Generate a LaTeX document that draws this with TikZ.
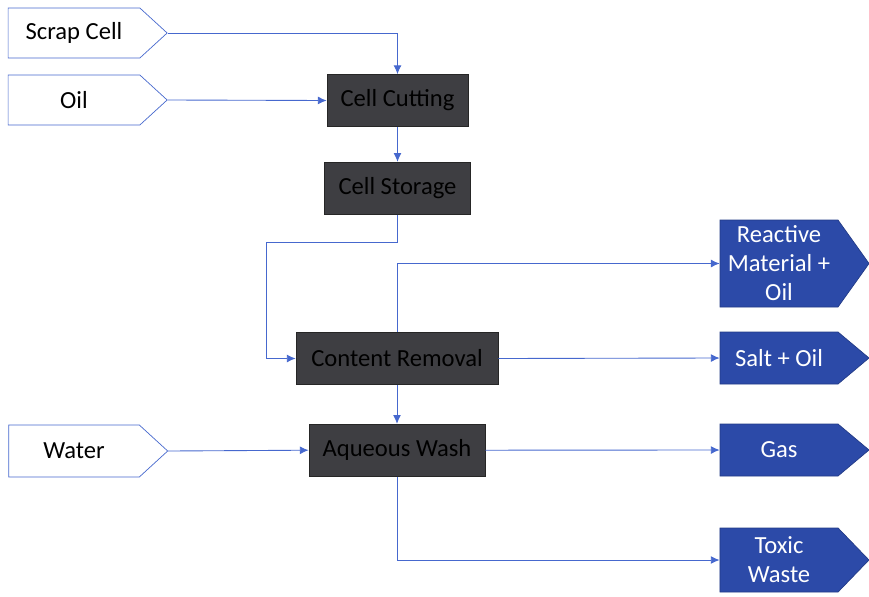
\documentclass[tikz,border=0pt]{standalone}
\usepackage{fontspec}
\setmainfont{Carlito}
\usepackage{tikz}
\usetikzlibrary{shapes.symbols, positioning, arrows.meta}
\usepackage{xcolor}
\definecolor{flowblue}{RGB}{70,104,206}
\definecolor{outblue}{RGB}{44,74,168}
\definecolor{procgray}{RGB}{62,62,66}

\begin{document}
\begin{tikzpicture}[font=\fontsize{14}{16.5}\selectfont,
    inbox/.style={signal, signal to=east, draw=flowblue, fill=white,
        text=black, minimum width=3.18cm, minimum height=1cm,
        signal pointer angle=85, inner sep=0pt},
    procbox/.style={rectangle, draw=black!85, fill=procgray,
        text=black, minimum height=1.04cm, inner sep=0pt},
    outbox/.style={signal, signal to=east, draw=outblue!80!black, fill=outblue,
        text=white, minimum width=2.98cm, minimum height=1.04cm,
        align=center, inner sep=0pt},
    hv/.style={to path={-| (\tikztotarget)}},
    vh/.style={to path={|- (\tikztotarget)}},
    detour/.style={to path={|- (bend) |- (\tikztotarget)}}]
    \useasboundingbox (0,0) rectangle (17.38,-11.92);
    % Add the inputs
        \node[inbox] (sc) at (1.48,-0.66) {Scrap Cell};
        \node[inbox] (oil) at (1.48,-2.0) {Oil};
        \node[inbox,
            minimum height=1.04cm
            ] (water) at (1.48,-9.02) {Water};
    % Add the process steps
        \node[procbox,
            minimum width=2.82cm
            ] (cc) at (7.95,-2.01) {Cell Cutting};
        \node[procbox,
            below=0.7 cm of cc,
            minimum width=2.92cm
            ] (cs) {Cell Storage};
        \node[procbox,
            minimum width=4.04cm
            ] (cr) at (7.94,-7.17) {Content Removal};
        \node[procbox,
            below=0.78 cm of cr,
            minimum width=3.52cm
            ] (aw) {Aqueous Wash};
    % Add the outputs
        \node[outbox,
            minimum height=1.74cm,
            signal pointer angle=109
            ] (rm) at (15.58,-5.27) {Reactive\\Material +\\Oil};
        \node[outbox,
            signal pointer angle=80
            ] (so) at (15.58,-7.16) {Salt + Oil};
        \node[outbox,
            signal pointer angle=80
            ] (gas) at (15.58,-9.0) {Gas};
        \node[outbox,
            minimum height=1.28cm,
            signal pointer angle=92
            ] (tw) at (15.58,-11.2) {Toxic\\Waste};
        \coordinate (bend) at (5.32,-4.84);

       \path[every edge/.append style={
        -{Latex[length=5pt,width=4.5pt]},
        draw=flowblue,
        line width=0.5pt}]
            (sc.east) edge[hv] (cc.north)
            (oil.east) edge (cc.west)
            (cc.south) edge (cs.north)
            (cs.south) edge[detour] (cr.west)
            (cr.north) edge[vh] (rm.west)
            (cr.east) edge (so.west)
            (cr.south) edge (aw.north)
            (water.east) edge (aw.west)
            (aw.east) edge (gas.west)
            (aw.south) edge[vh] (tw.west)
            ;
    \end{tikzpicture}
\end{document}
